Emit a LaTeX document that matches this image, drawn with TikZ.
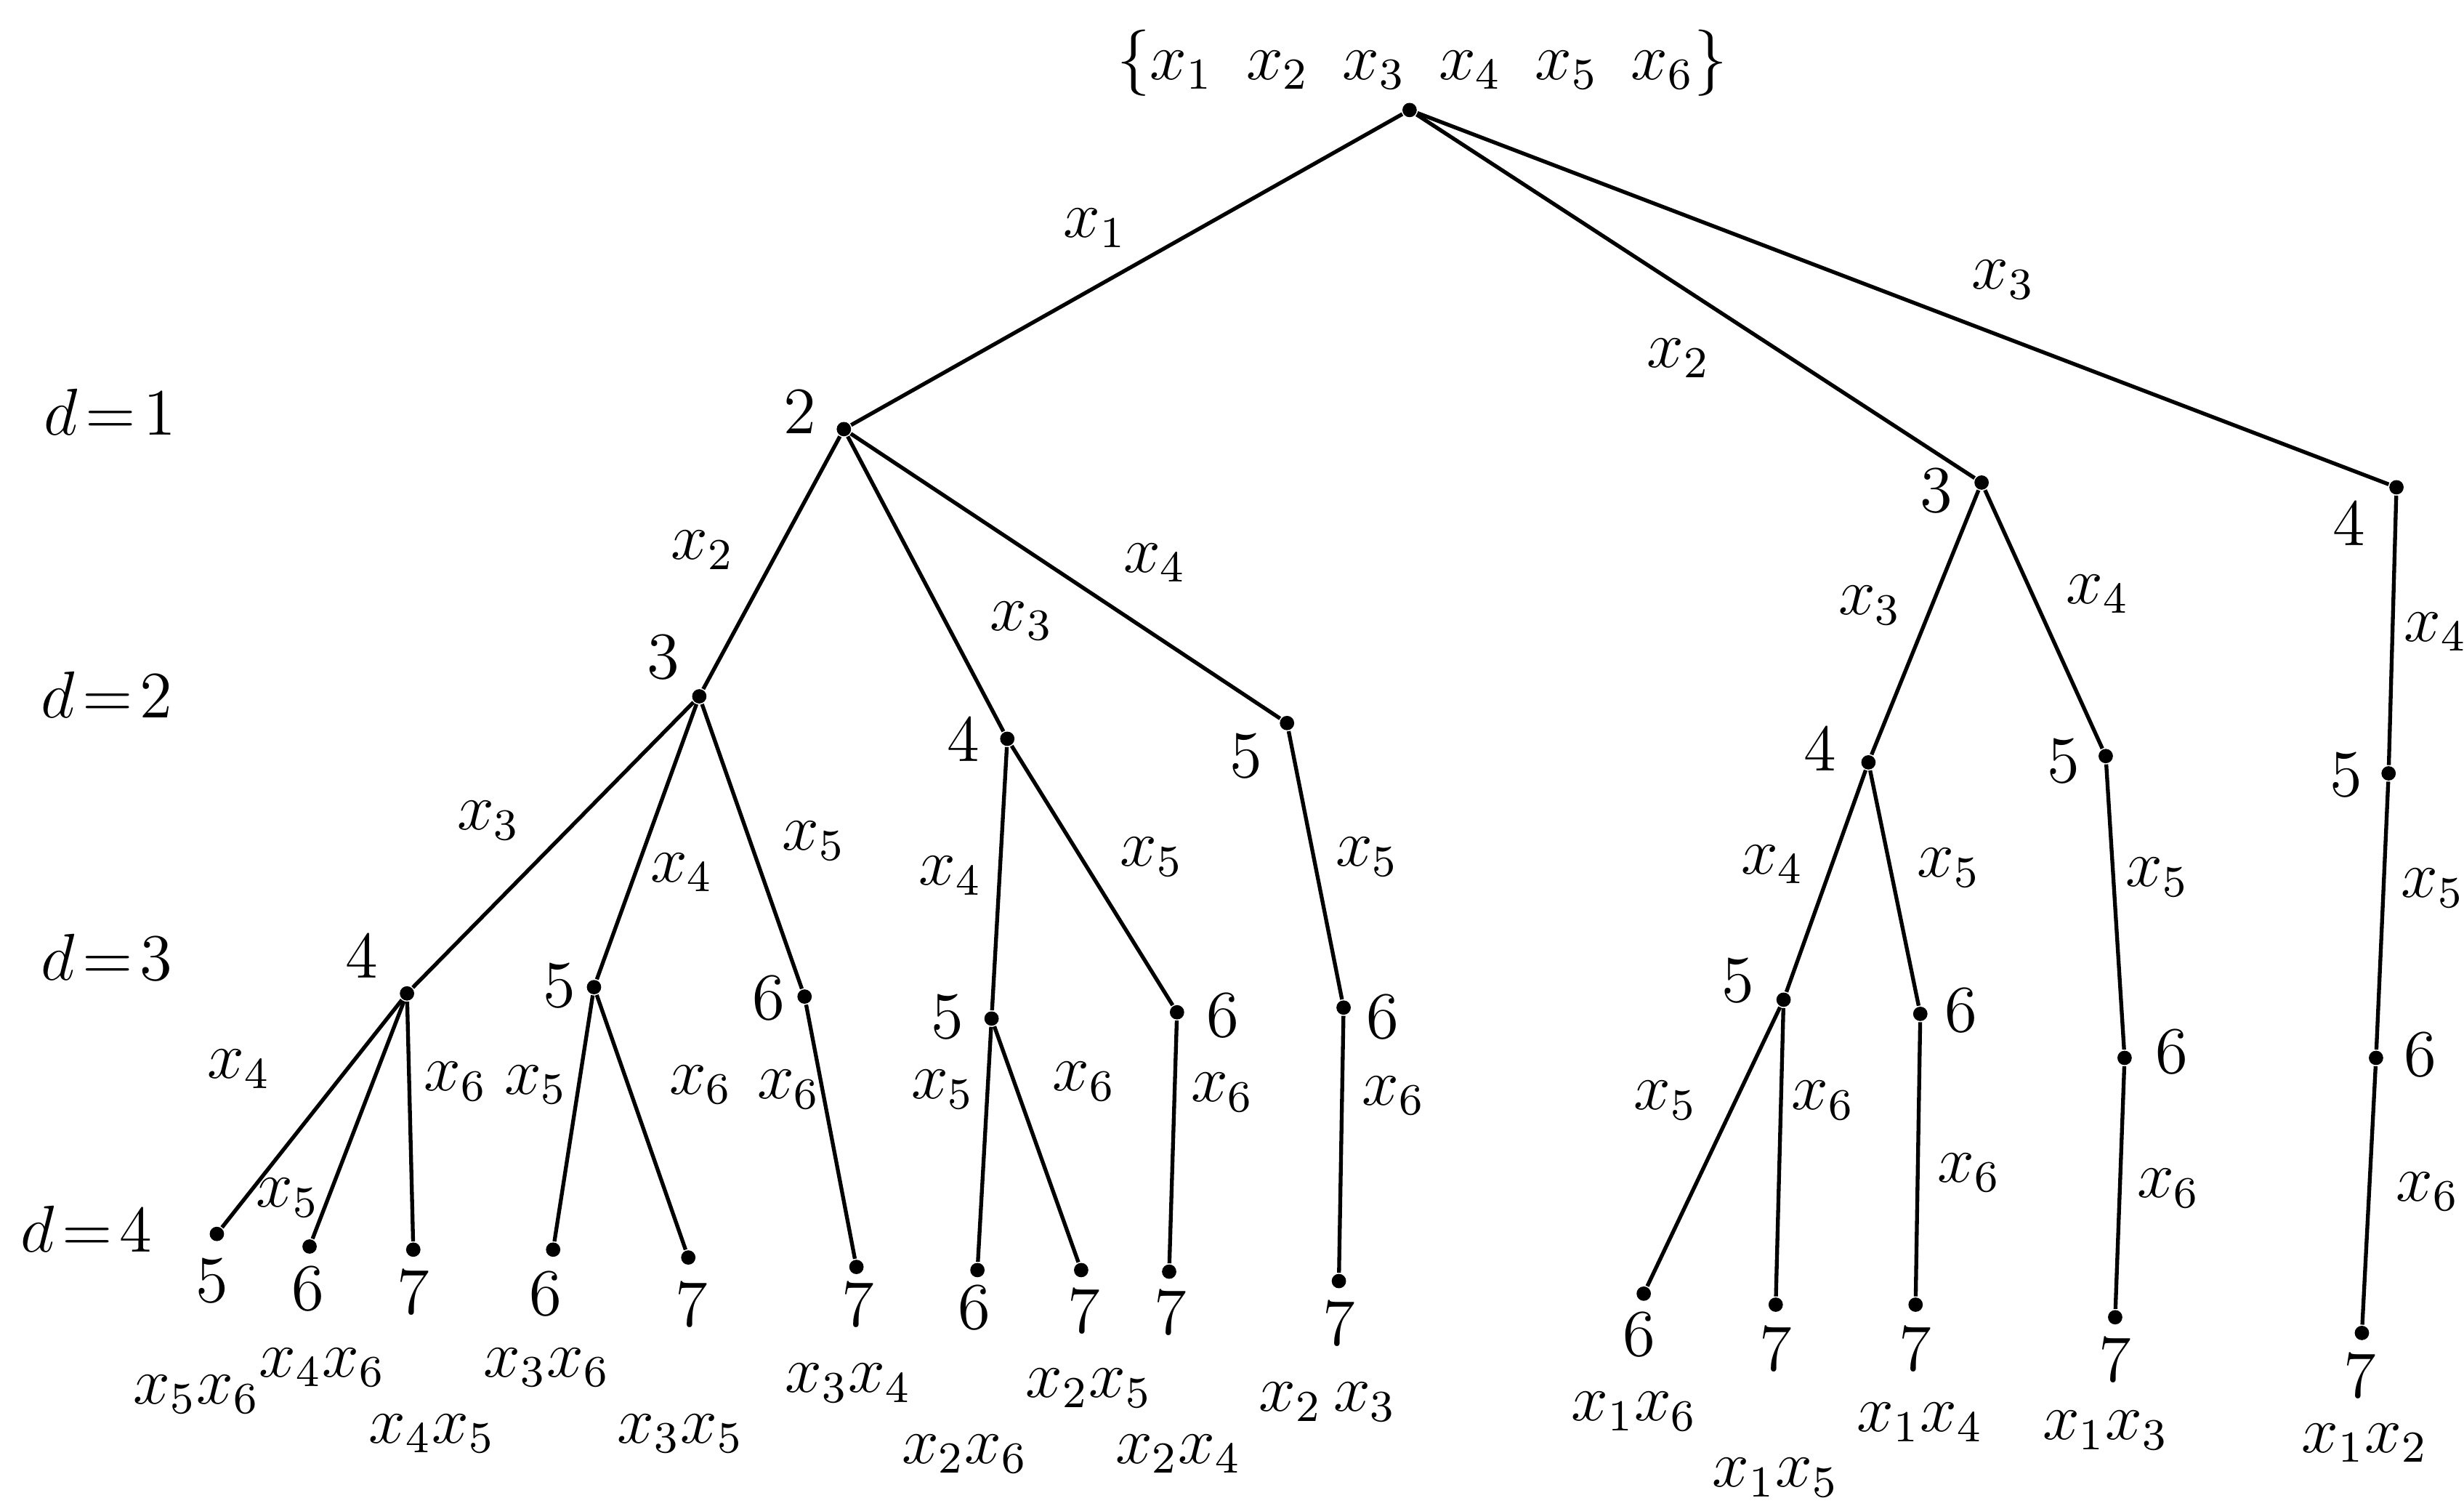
\documentclass[tikz,border=0pt]{standalone}
\usepackage{amsmath,amssymb}
\usepackage{tikz}
\usetikzlibrary{arrows,arrows.meta}

\begin{document}
\begin{tikzpicture}[
vtx/.style={circle,fill,inner sep=0pt,minimum size=2.6pt},
num/.style={font=\large,inner sep=1pt},
lab/.style={font=\large,inner sep=1pt},
leafset/.style={font=\large,inner sep=1pt},
lvl/.style={font=\large,inner sep=1pt},
edge/.style={line width=0.7pt} ]

\useasboundingbox (0,0) rectangle (15.68,9.58);

% levels
\node[lvl](d1) at (0.70,6.96) {$d\!=\!1$};
\node[lvl](d2) at (0.68,5.16) {$d\!=\!2$};
\node[lvl](d3) at (0.68,3.49) {$d\!=\!3$};
\node[lvl](d4) at (0.55,1.76) {$d\!=\!4$};

\node[lab](top) at (9.05,9.18) {$\{x_1\enspace x_2\enspace x_3\enspace x_4\enspace x_5\enspace x_6\}$};

% vertices
\node[vtx](r) at (8.97,8.88) {};
\node[vtx](v1) at (5.37,6.85) {};
\node[vtx](v2) at (12.61,6.51) {};
\node[vtx](v3) at (15.25,6.48) {};
\node[vtx](v12) at (4.45,5.15) {};
\node[vtx](v13) at (6.41,4.88) {};
\node[vtx](v14) at (8.19,4.98) {};
\node[vtx](v23) at (11.89,4.73) {};
\node[vtx](v24) at (13.40,4.77) {};
\node[vtx](v34) at (15.20,4.66) {};
\node[vtx](v123) at (2.59,3.26) {};
\node[vtx](v124) at (3.78,3.30) {};
\node[vtx](v125) at (5.12,3.24) {};
\node[vtx](v134) at (6.31,3.10) {};
\node[vtx](v135) at (7.49,3.14) {};
\node[vtx](v145) at (8.55,3.17) {};
\node[vtx](v234) at (11.35,3.22) {};
\node[vtx](v235) at (12.22,3.13) {};
\node[vtx](v245) at (13.52,2.85) {};
\node[vtx](v345) at (15.12,2.85) {};
\node[vtx](v1234) at (1.38,1.73) {};
\node[vtx](v1235) at (1.97,1.65) {};
\node[vtx](v1236) at (2.63,1.63) {};
\node[vtx](v1245) at (3.52,1.63) {};
\node[vtx](v1246) at (4.38,1.58) {};
\node[vtx](v1256) at (5.45,1.52) {};
\node[vtx](v1345) at (6.22,1.50) {};
\node[vtx](v1346) at (6.88,1.50) {};
\node[vtx](v1356) at (7.44,1.49) {};
\node[vtx](v1456) at (8.52,1.43) {};
\node[vtx](v2345) at (10.46,1.35) {};
\node[vtx](v2346) at (11.30,1.28) {};
\node[vtx](v2356) at (12.19,1.28) {};
\node[vtx](v2456) at (13.46,1.20) {};
\node[vtx](v3456) at (15.03,1.10) {};

% vertex numbers
\node[num](t1) at (5.09,6.96) {2};
\node[num](t2) at (12.32,6.46) {3};
\node[num](t3) at (14.95,6.25) {4};
\node[num](t12) at (4.22,5.40) {3};
\node[num](t13) at (6.13,4.88) {4};
\node[num](t14) at (7.93,4.77) {5};
\node[num](t23) at (11.58,4.82) {4};
\node[num](t24) at (13.13,4.74) {5};
\node[num](t34) at (14.93,4.65) {5};
\node[num](t123) at (2.30,3.50) {4};
\node[num](t124) at (3.56,3.31) {5};
\node[num](t125) at (4.89,3.23) {6};
\node[num](t134) at (6.03,3.11) {5};
\node[num](t135) at (7.78,3.12) {6};
\node[num](t145) at (8.80,3.11) {6};
\node[num](t234) at (11.06,3.34) {5};
\node[num](t235) at (12.48,3.15) {6};
\node[num](t245) at (13.82,2.89) {6};
\node[num](t345) at (15.40,2.87) {6};
\node[num](t1234) at (1.35,1.43) {5};
\node[num](t1235) at (1.96,1.38) {6};
\node[num](t1236) at (2.63,1.36) {7};
\node[num](t1245) at (3.47,1.35) {6};
\node[num](t1246) at (4.40,1.28) {7};
\node[num](t1256) at (5.46,1.28) {7};
\node[num](t1345) at (6.20,1.26) {6};
\node[num](t1346) at (6.90,1.24) {7};
\node[num](t1356) at (7.45,1.23) {7};
\node[num](t1456) at (8.52,1.16) {7};
\node[num](t2345) at (10.43,1.09) {6};
\node[num](t2346) at (11.30,1.00) {7};
\node[num](t2356) at (12.19,1.00) {7};
\node[num](t2456) at (13.46,0.93) {7};
\node[num](t3456) at (15.02,0.83) {7};

% edges
\draw[edge] (r) -- (v1);
\draw[edge] (r) -- (v2);
\draw[edge] (r) -- (v3);
\draw[edge] (v1) -- (v12);
\draw[edge] (v1) -- (v13);
\draw[edge] (v1) -- (v14);
\draw[edge] (v2) -- (v23);
\draw[edge] (v2) -- (v24);
\draw[edge] (v3) -- (v34);
\draw[edge] (v12) -- (v123);
\draw[edge] (v12) -- (v124);
\draw[edge] (v12) -- (v125);
\draw[edge] (v13) -- (v134);
\draw[edge] (v13) -- (v135);
\draw[edge] (v14) -- (v145);
\draw[edge] (v23) -- (v234);
\draw[edge] (v23) -- (v235);
\draw[edge] (v24) -- (v245);
\draw[edge] (v34) -- (v345);
\draw[edge] (v123) -- (v1234);
\draw[edge] (v123) -- (v1235);
\draw[edge] (v123) -- (v1236);
\draw[edge] (v124) -- (v1245);
\draw[edge] (v124) -- (v1246);
\draw[edge] (v125) -- (v1256);
\draw[edge] (v134) -- (v1345);
\draw[edge] (v134) -- (v1346);
\draw[edge] (v135) -- (v1356);
\draw[edge] (v145) -- (v1456);
\draw[edge] (v234) -- (v2345);
\draw[edge] (v234) -- (v2346);
\draw[edge] (v235) -- (v2356);
\draw[edge] (v245) -- (v2456);
\draw[edge] (v345) -- (v3456);

% edge labels
\node[lab](e1) at (6.97,8.13) {$x_1$};
\node[lab](e2) at (10.68,7.30) {$x_2$};
\node[lab](e3) at (12.75,7.80) {$x_3$};
\node[lab](e12) at (4.47,6.08) {$x_2$};
\node[lab](e13) at (6.50,5.63) {$x_3$};
\node[lab](e14) at (7.35,6.00) {$x_4$};
\node[lab](e23) at (11.90,5.73) {$x_3$};
\node[lab](e24) at (13.35,5.80) {$x_4$};
\node[lab](e34) at (15.50,5.56) {$x_4$};
\node[lab](e123) at (3.11,4.36) {$x_3$};
\node[lab](e124) at (4.34,4.03) {$x_4$};
\node[lab](e125) at (5.18,4.23) {$x_5$};
\node[lab](e134) at (6.05,4.01) {$x_4$};
\node[lab](e135) at (7.33,4.13) {$x_5$};
\node[lab](e145) at (8.70,4.13) {$x_5$};
\node[lab](e234) at (11.28,4.08) {$x_4$};
\node[lab](e235) at (12.40,4.06) {$x_5$};
\node[lab](e245) at (13.73,4.00) {$x_5$};
\node[lab](e345) at (15.48,3.93) {$x_5$};
\node[lab](e1234) at (1.52,2.78) {$x_4$};
\node[lab](e1235) at (1.83,1.96) {$x_5$};
\node[lab](e1236) at (2.90,2.70) {$x_6$};
\node[lab](e1245) at (3.41,2.68) {$x_5$};
\node[lab](e1246) at (4.46,2.68) {$x_6$};
\node[lab](e1256) at (5.02,2.65) {$x_6$};
\node[lab](e1345) at (6.00,2.65) {$x_5$};
\node[lab](e1346) at (6.90,2.70) {$x_6$};
\node[lab](e1356) at (7.78,2.63) {$x_6$};
\node[lab](e1456) at (8.87,2.61) {$x_6$};
\node[lab](e2345) at (10.60,2.58) {$x_5$};
\node[lab](e2346) at (11.60,2.58) {$x_6$};
\node[lab](e2356) at (12.53,2.12) {$x_6$};
\node[lab](e2456) at (13.80,2.02) {$x_6$};
\node[lab](e3456) at (15.45,2.00) {$x_6$};

% leaf sets
\node[leafset](s1234) at (1.25,0.71) {$x_5x_6$};
\node[leafset](s1235) at (2.05,0.88) {$x_4x_6$};
\node[leafset](s1236) at (2.75,0.46) {$x_4x_5$};
\node[leafset](s1245) at (3.48,0.88) {$x_3x_6$};
\node[leafset](s1246) at (4.33,0.46) {$x_3x_5$};
\node[leafset](s1256) at (5.40,0.78) {$x_3x_4$};
\node[leafset](s1345) at (6.14,0.33) {$x_2x_6$};
\node[leafset](s1346) at (6.93,0.75) {$x_2x_5$};
\node[leafset](s1356) at (7.50,0.33) {$x_2x_4$};
\node[leafset](s1456) at (8.45,0.66) {$x_2\,x_3$};
\node[leafset](s2345) at (10.40,0.60) {$x_1x_6$};
\node[leafset](s2346) at (11.30,0.18) {$x_1x_5$};
\node[leafset](s2356) at (12.22,0.53) {$x_1x_4$};
\node[leafset](s2456) at (13.40,0.48) {$x_1x_3$};
\node[leafset](s3456) at (15.05,0.40) {$x_1x_2$};

\end{tikzpicture}
\end{document}
